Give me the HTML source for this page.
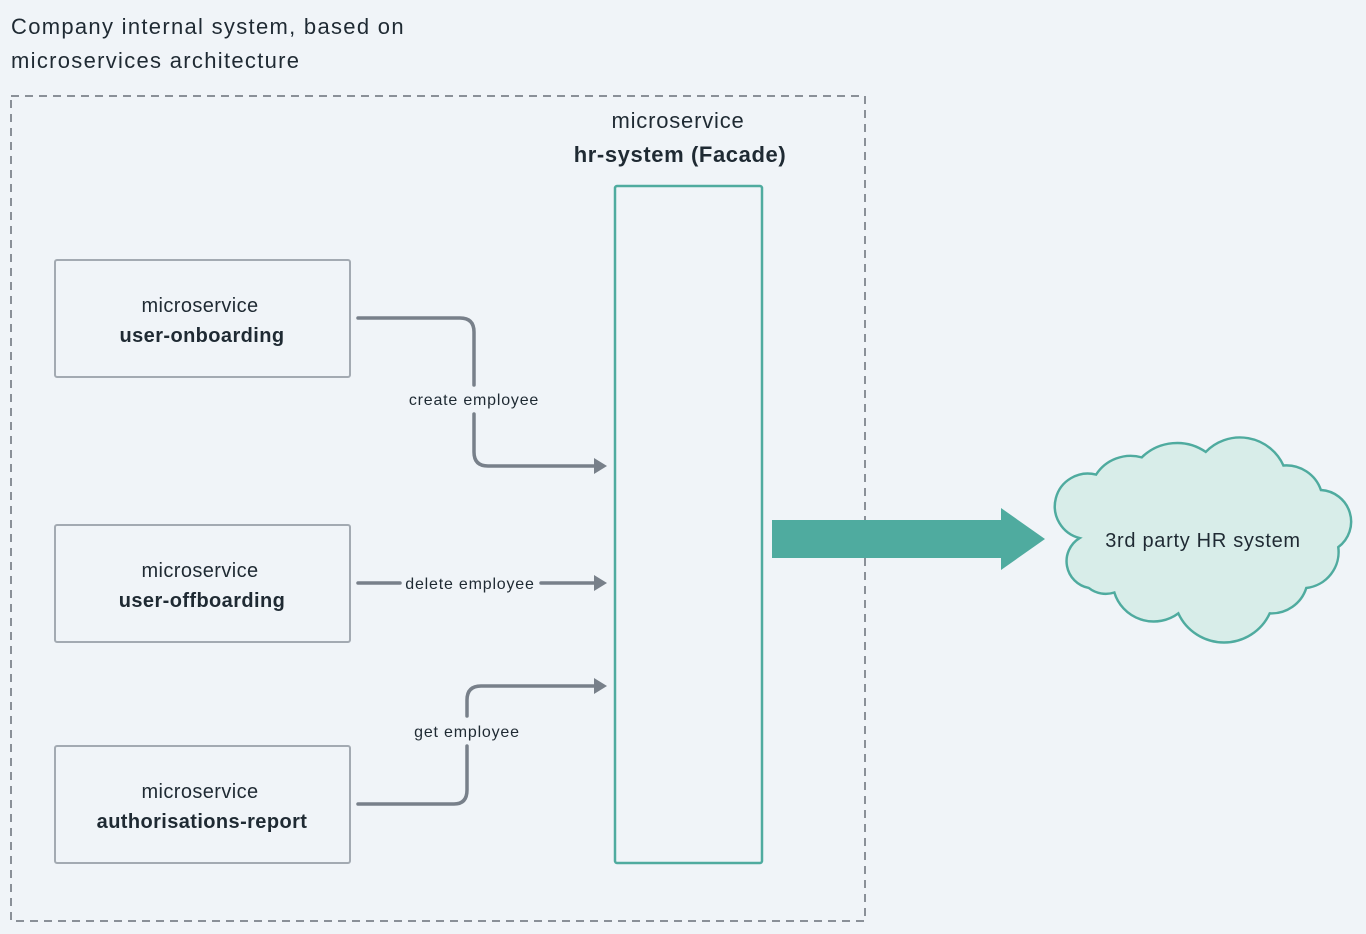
<!DOCTYPE html>
<html><head><meta charset="utf-8"><style>
html,body{margin:0;padding:0;background:#f0f4f8;}
svg{display:block;font-family:"Liberation Sans","DejaVu Sans",sans-serif;}
</style></head><body>
<svg width="1366" height="934" viewBox="0 0 1366 934">
<rect width="1366" height="934" fill="#f0f4f8"/>
<text x="11" y="34" font-size="22" letter-spacing="1.3" fill="#1f2a33">Company internal system, based on</text>
<text x="11" y="68" font-size="22" letter-spacing="1.3" fill="#1f2a33">microservices architecture</text>
<rect x="11" y="96" width="854" height="825" fill="none" stroke="#8a9098" stroke-width="2" stroke-dasharray="8,6"/>
<text x="678" y="128" font-size="22" letter-spacing="0.8" fill="#1f2a33" text-anchor="middle">microservice</text>
<text x="680" y="162" font-size="22" letter-spacing="0.6" font-weight="bold" fill="#1f2a33" text-anchor="middle">hr-system (Facade)</text>
<rect x="615" y="186" width="147" height="677" fill="none" stroke="#4fab9f" stroke-width="2.5" rx="2"/>
<g fill="none" stroke="#a3aab2" stroke-width="2">
<rect x="55" y="260" width="295" height="117" rx="2"/>
<rect x="55" y="525" width="295" height="117" rx="2"/>
<rect x="55" y="746" width="295" height="117" rx="2"/>
</g>
<g font-size="20" fill="#1f2a33" text-anchor="middle" letter-spacing="0.4">
<text x="200" y="312">microservice</text>
<text x="202" y="342" font-weight="bold">user-onboarding</text>
<text x="200" y="577">microservice</text>
<text x="202" y="607" font-weight="bold">user-offboarding</text>
<text x="200" y="798">microservice</text>
<text x="202" y="828" font-weight="bold">authorisations-report</text>
</g>
<g fill="none" stroke="#78808a" stroke-width="3.5" stroke-linecap="round">
<path d="M358,318 H460 Q474,318 474,332 V385"/>
<path d="M474,414 V452 Q474,466 488,466 H598"/>
<path d="M358,583 H400"/>
<path d="M541,583 H598"/>
<path d="M358,804 H454 Q467,804 467,790 V746"/>
<path d="M467,716 V700 Q467,686 481,686 H598"/>
</g>
<g fill="#78808a">
<polygon points="594,458 607,466 594,474"/>
<polygon points="594,575 607,583 594,591"/>
<polygon points="594,678 607,686 594,694"/>
</g>
<g font-size="16" fill="#1f2a33" text-anchor="middle" letter-spacing="0.8">
<text x="474" y="405">create employee</text>
<text x="470" y="589">delete employee</text>
<text x="467" y="737">get employee</text>
</g>
<polygon points="772,520 1001,520 1001,508 1045,539 1001,570 1001,558 772,558" fill="#4fab9f"/>
<path transform="translate(1203,539) scale(0.914,0.907) translate(-1197,-546)" d="M1072,600 A30,30 0 0 1 1062,545 A32,32 0 0 1 1080,475 A45,45 0 0 1 1130,456 A55,55 0 0 1 1200,450 A52,52 0 0 1 1285,465 A40,40 0 0 1 1326,492 A35,35 0 0 1 1345,555 A40,40 0 0 1 1310,600 A40,40 0 0 1 1270,628 A55,55 0 0 1 1170,628 A45,45 0 0 1 1100,605 A30,30 0 0 1 1072,600 Z" fill="#d8ede9" stroke="#4fab9f" stroke-width="2.7"/>
<text x="1203" y="547" font-size="20" letter-spacing="0.7" fill="#1f2a33" text-anchor="middle">3rd party HR system</text>
</svg>
</body></html>
